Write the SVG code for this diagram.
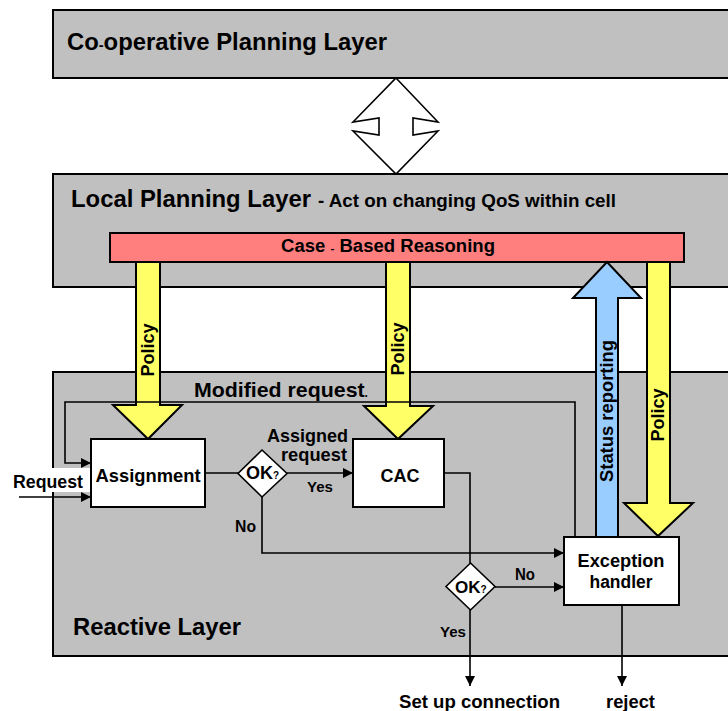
<svg xmlns="http://www.w3.org/2000/svg" width="728" height="711" viewBox="0 0 728 711">
<defs>
<style>
text{font-family:"Liberation Sans",Arial,sans-serif;font-weight:bold;fill:#000}
.layer{fill:#C0C0C0;stroke:#000;stroke-width:2}
.box{fill:#fff;stroke:#000;stroke-width:2}
.pol{fill:#FFFF66;stroke:#000;stroke-width:2}
.stat{fill:#99CCFF;stroke:#000;stroke-width:2}
.ln{fill:none;stroke:#000;stroke-width:1.6}
</style>
<marker id="ah" viewBox="0 0 10 10" refX="10" refY="5" markerWidth="10" markerHeight="10" markerUnits="userSpaceOnUse" orient="auto">
<path d="M0,0 L10,5 L0,10 Z" fill="#000"/>
</marker>
</defs>

<g id="coop-layer">
<rect class="layer" x="53" y="10" width="690" height="68"/>
<text x="67" y="50" font-size="23" textLength="320" lengthAdjust="spacingAndGlyphs">Co<tspan font-size="14">-</tspan>operative Planning Layer</text>
</g>

<g id="double-arrow">
<polygon points="396,78 438,122 413,118 413,135 438,131 396,174 353,131 379,135 379,118 353,122" fill="#fff" stroke="#000" stroke-width="1.6"/>
</g>

<g id="local-layer">
<rect class="layer" x="53" y="174" width="690" height="113"/>
<text x="71" y="207" font-size="23" textLength="240" lengthAdjust="spacingAndGlyphs">Local Planning Layer</text>
<text x="318" y="207" font-size="18" textLength="298" lengthAdjust="spacingAndGlyphs">- Act on changing QoS within cell</text>
</g>

<g id="reactive-layer">
<rect class="layer" x="53" y="372" width="690" height="284"/>
<text x="73" y="635" font-size="23" textLength="168" lengthAdjust="spacingAndGlyphs">Reactive Layer</text>
</g>

<g id="cbr">
<rect x="110" y="233" width="574" height="29" fill="#FF7F7F" stroke="#000" stroke-width="2"/>
<text x="281" y="252" font-size="17.5" textLength="214" lengthAdjust="spacingAndGlyphs">Case <tspan font-size="11">-</tspan> Based Reasoning</text>
</g>

<g id="policy1">
<polygon class="pol" points="136,262 160,262 160,405 182,405 148,439 113,405 136,405"/>
<text transform="translate(154,350) rotate(-90)" font-size="18" text-anchor="middle">Policy</text>
</g>

<g id="policy2">
<polygon class="pol" points="386,262 410,262 410,406 433,406 398,439 364,406 386,406"/>
<text transform="translate(404,349) rotate(-90)" font-size="18" text-anchor="middle">Policy</text>
</g>

<g id="status-reporting">
<polygon class="stat" points="596,537 596,298 573,298 607,262 641,298 618,298 618,537"/>
<text transform="translate(613,411) rotate(-90)" font-size="18" text-anchor="middle" textLength="142" lengthAdjust="spacingAndGlyphs">Status reporting</text>
</g>

<g id="policy3">
<polygon class="pol" points="647,262 670,262 670,503 693,503 658,536 624,503 647,503"/>
<text transform="translate(664,415) rotate(-90)" font-size="18" text-anchor="middle">Policy</text>
</g>

<g id="request-label">
<rect x="0" y="468" width="90" height="24" fill="#fff"/>
<text x="13" y="488" font-size="18" textLength="70" lengthAdjust="spacingAndGlyphs">Request</text>
</g>

<g id="modified-request-label">
<text x="194" y="397" font-size="21" textLength="174" lengthAdjust="spacingAndGlyphs">Modified request<tspan font-size="12">.</tspan></text>
</g>

<g id="connectors">
<polyline class="ln" points="575,537 575,402 65,402 65,463 91,463" marker-end="url(#ah)"/>
<line class="ln" x1="19" y1="497" x2="91" y2="497" marker-end="url(#ah)"/>
<line class="ln" x1="205" y1="473" x2="238" y2="473"/>
<line class="ln" x1="287" y1="473" x2="353" y2="473" marker-end="url(#ah)"/>
<polyline class="ln" points="262,497 262,553 564,553" marker-end="url(#ah)"/>
<polyline class="ln" points="444,473 470,473 470,563"/>
<line class="ln" x1="495" y1="587" x2="564" y2="587" marker-end="url(#ah)"/>
<line class="ln" x1="470" y1="610" x2="470" y2="686" marker-end="url(#ah)"/>
<line class="ln" x1="622" y1="605" x2="622" y2="686" marker-end="url(#ah)"/>
<text x="267" y="442" font-size="18" textLength="81" lengthAdjust="spacingAndGlyphs">Assigned</text>
<text x="281" y="461" font-size="18" textLength="66" lengthAdjust="spacingAndGlyphs">request</text>
<text x="307" y="492" font-size="15.5" textLength="26" lengthAdjust="spacingAndGlyphs">Yes</text>
<text x="235" y="532" font-size="16" textLength="21" lengthAdjust="spacingAndGlyphs">No</text>
<text x="515" y="580" font-size="16" textLength="20" lengthAdjust="spacingAndGlyphs">No</text>
<text x="440" y="637" font-size="15.5" textLength="26" lengthAdjust="spacingAndGlyphs">Yes</text>
</g>

<g id="assignment">
<rect class="box" x="91" y="439" width="114" height="68"/>
<text x="148" y="482" font-size="18" text-anchor="middle" textLength="105" lengthAdjust="spacingAndGlyphs">Assignment</text>
</g>

<g id="ok1">
<polygon points="262,450 287,473.5 262,497 238,473.5" fill="#fff" stroke="#000" stroke-width="1.6"/>
<text x="246" y="479" font-size="18">OK<tspan font-size="10">?</tspan></text>
</g>

<g id="cac">
<rect class="box" x="353" y="439" width="91" height="68"/>
<text x="400" y="482" font-size="18" text-anchor="middle">CAC</text>
</g>

<g id="ok2">
<polygon points="470.5,563 495,586.5 470.5,610 446,586.5" fill="#fff" stroke="#000" stroke-width="1.6"/>
<text x="455" y="593" font-size="17">OK<tspan font-size="10">?</tspan></text>
</g>

<g id="exception-handler">
<rect class="box" x="564" y="537" width="115" height="68"/>
<text x="621" y="567" font-size="18" text-anchor="middle" textLength="87" lengthAdjust="spacingAndGlyphs">Exception</text>
<text x="621" y="588" font-size="18" text-anchor="middle" textLength="63" lengthAdjust="spacingAndGlyphs">handler</text>
</g>

<g id="outputs">
<text x="399" y="708" font-size="18" textLength="161" lengthAdjust="spacingAndGlyphs">Set up connection</text>
<text x="606" y="708" font-size="18" textLength="49" lengthAdjust="spacingAndGlyphs">reject</text>
</g>
</svg>
